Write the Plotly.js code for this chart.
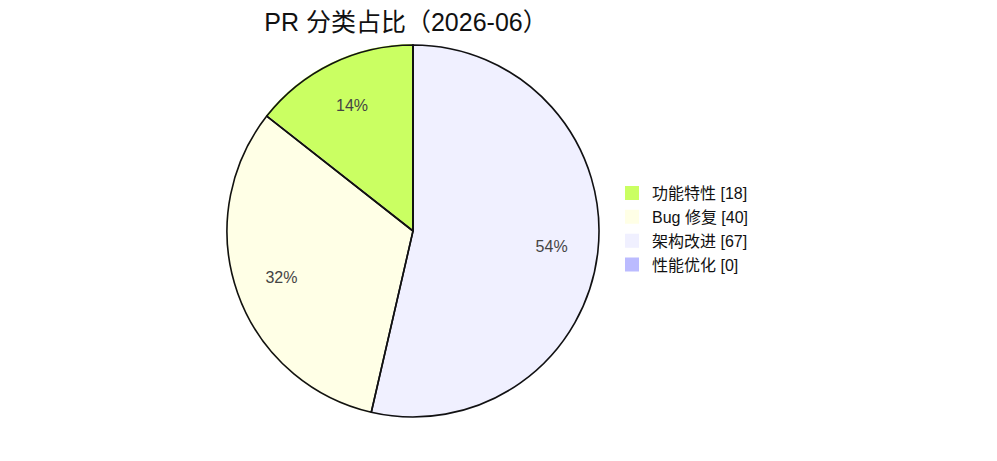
<!DOCTYPE html>
<html>
<head>
<meta charset="utf-8">
<script src="https://cdn.plot.ly/plotly-3.0.1.min.js"></script>
<style>html,body{margin:0;padding:0;background:#fff;}#chart{width:997px;height:461px;}</style>
</head>
<body>
<div id="chart"></div>
<script>
var categories = ['功能特性', 'Bug 修复', '架构改进', '性能优化'];
var counts = [18, 40, 67, 0];
var sliceColors = ['#caff62', '#ffffe6', '#f0f0ff', '#bbbbff'];
var chartTitle = 'PR 分类占比（2026-06）';

var labels = categories.map(function (c, i) { return c + ' [' + counts[i] + ']'; });
var total = counts.reduce(function (a, b) { return a + b; }, 0);
// Plotly's counterclockwise pies place the first slice clockwise of 12 o'clock;
// shift so the first slice starts at 12 o'clock and runs counterclockwise.
var startRotation = -360 * counts[0] / total;
var FONT = 'Liberation Sans, Noto Sans CJK SC, sans-serif';
var clear = counts.map(function () { return 'rgba(0,0,0,0)'; });

var base = {
  type: 'pie',
  values: counts,
  sort: false,
  direction: 'counterclockwise',
  rotation: startRotation
};

var fillTrace = Object.assign({}, base, {
  labels: labels,
  marker: { colors: sliceColors, line: { color: sliceColors, width: 2 } },
  textinfo: 'none',
  hoverinfo: 'label+value+percent',
  showlegend: true
});

// ring trace only used to place percentage labels further out in each slice
var textTrace = Object.assign({}, base, {
  labels: labels.map(function (l) { return l + '\u200b'; }),
  hole: 0.5,
  marker: { colors: clear, line: { width: 0 } },
  texttemplate: counts.map(function (v) { return v > 0 ? '%{percent:.0%}' : ''; }),
  textposition: 'inside',
  insidetextorientation: 'horizontal',
  textfont: { family: FONT, size: 16, color: '#444' },
  hoverinfo: 'skip',
  showlegend: false
});

var borderTrace = Object.assign({}, base, {
  labels: labels.map(function (l) { return l + ' '; }),
  marker: { colors: clear, line: { color: '#111', width: 1.6 } },
  textinfo: 'none',
  hoverinfo: 'skip',
  showlegend: false
});

var layout = {
  width: 997,
  height: 461,
  margin: { l: 100, r: 271, t: 45, b: 44 },
  paper_bgcolor: '#ffffff',
  plot_bgcolor: '#ffffff',
  font: { family: FONT, size: 16, color: '#111' },
  title: {
    text: chartTitle,
    font: { family: FONT, size: 25, color: '#111' },
    xref: 'container', yref: 'container',
    x: 406 / 997, xanchor: 'center',
    y: 1 - 22 / 461, yanchor: 'middle'
  },
  legend: {
    xref: 'paper', yref: 'paper',
    x: 0.8179, xanchor: 'left',
    y: 0.505, yanchor: 'middle',
    font: { family: FONT, size: 16, color: '#111' },
    bgcolor: 'rgba(0,0,0,0)',
    traceorder: 'normal'
  },
  showlegend: true
};

Plotly.newPlot('chart', [fillTrace, textTrace, borderTrace], layout, { displayModeBar: false, staticPlot: true });
</script>
</body>
</html>
